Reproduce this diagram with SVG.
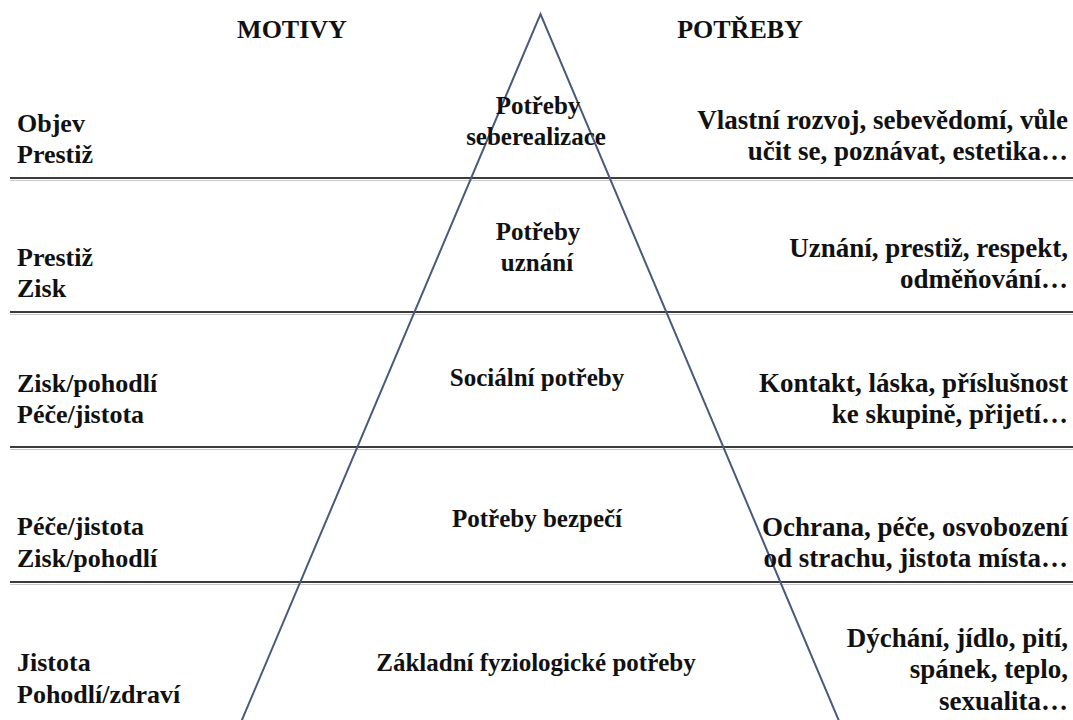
<svg xmlns="http://www.w3.org/2000/svg" width="1073" height="720" viewBox="0 0 1073 720">
<style>
text{font-family:'Liberation Serif','DejaVu Serif',serif;font-weight:700;font-size:26px;fill:#111}
.c{text-anchor:middle;font-size:25px}
.r{text-anchor:end;font-size:27px}
.hd{text-anchor:middle;font-size:26px}
.h{stroke:#3c3c3c;stroke-width:2.2;fill:none}
.hs{stroke:#c8c8c8;stroke-width:1;fill:none}
.tri{stroke:#4a5a7e;stroke-width:2;fill:none}
</style>
<rect width="1073" height="720" fill="#fff"/>
<g id="connectors">
<g id="rules">
<line class="hs" x1="10" y1="180.5" x2="1073" y2="180.5"/>
<line class="hs" x1="10" y1="314.5" x2="1073" y2="314.5"/>
<line class="hs" x1="10" y1="449.5" x2="1073" y2="449.5"/>
<line class="hs" x1="10" y1="584.5" x2="1073" y2="584.5"/>
<line class="h" x1="10" y1="178" x2="1073" y2="178"/>
<line class="h" x1="10" y1="312" x2="1073" y2="312"/>
<line class="h" x1="10" y1="447" x2="1073" y2="447"/>
<line class="h" x1="10" y1="582" x2="1073" y2="582"/>
</g>
<polyline id="pyramid" class="tri" points="241.5,721 540.5,14 839,721"/>
</g>
<g id="headers">
<text x="292" y="38" class="hd">MOTIVY</text>
<text x="740" y="38" class="hd">POTŘEBY</text>
</g>
<g id="level1">
<text x="17" y="132">Objev</text>
<text x="17" y="163">Prestiž</text>
<text x="538" y="114" class="c">Potřeby</text>
<text x="536" y="145" class="c">seberealizace</text>
<text x="1068" y="129" class="r">Vlastní rozvoj, sebevědomí, vůle</text>
<text x="1068" y="160" class="r">učit se, poznávat, estetika…</text>
</g>
<g id="level2">
<text x="17" y="266">Prestiž</text>
<text x="17" y="297">Zisk</text>
<text x="538" y="240" class="c">Potřeby</text>
<text x="537" y="271" class="c">uznání</text>
<text x="1068" y="257" class="r">Uznání, prestiž, respekt,</text>
<text x="1068" y="288" class="r">odměňování…</text>
</g>
<g id="level3">
<text x="17" y="392">Zisk/pohodlí</text>
<text x="17" y="423">Péče/jistota</text>
<text x="537" y="386" class="c">Sociální potřeby</text>
<text x="1068" y="392" class="r">Kontakt, láska, příslušnost</text>
<text x="1068" y="423" class="r">ke skupině, přijetí…</text>
</g>
<g id="level4">
<text x="17" y="535">Péče/jistota</text>
<text x="17" y="567">Zisk/pohodlí</text>
<text x="537" y="527" class="c">Potřeby bezpečí</text>
<text x="1068" y="536" class="r">Ochrana, péče, osvobození</text>
<text x="1068" y="567" class="r">od strachu, jistota místa…</text>
</g>
<g id="level5">
<text x="17" y="671">Jistota</text>
<text x="17" y="703">Pohodlí/zdraví</text>
<text x="536" y="671" class="c">Základní fyziologické potřeby</text>
<text x="1068" y="647" class="r">Dýchání, jídlo, pití,</text>
<text x="1068" y="678" class="r">spánek, teplo,</text>
<text x="1068" y="710" class="r">sexualita…</text>
</g>
</svg>
